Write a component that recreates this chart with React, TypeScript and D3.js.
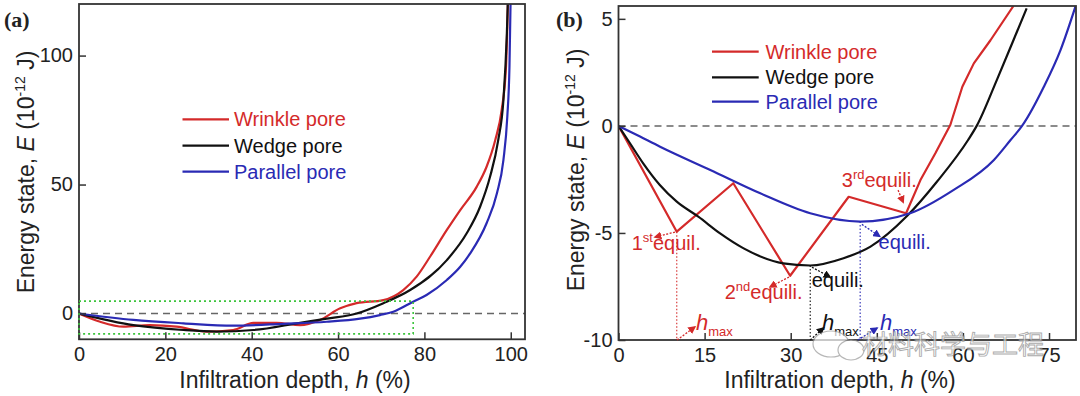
import React, { useEffect, useRef } from "react";
import * as d3 from "d3";

// ---- data: [h (%), E (1e-12 J)] ----
// panel (a), whole infiltration range
const wrinkleA: [number, number][] = [
  [0, 0], [4.9, -3.2], [10.3, -5.1], [16.4, -4.5], [22.6, -5.1], [29.6, -7.0], [35.7, -6.4],
  [40.4, -3.6], [45.8, -3.6], [51.2, -4.5], [55.8, -2.5], [60.5, 2.0], [64.3, 4.0], [70.5, 5.2],
  [75.1, 9.1], [78.2, 14.3], [81.3, 22.0], [85.2, 32.4], [88.3, 40.1], [92.1, 49.1], [94.4, 56.9],
  [96.4, 67.2], [97.9, 78.9], [98.9, 95.7], [99.4, 125],
];
const wedgeA: [number, number][] = [
  [0, 0], [12.6, -4.5], [24.2, -6.4], [31.9, -7.0], [40.4, -6.4], [51.2, -3.6], [57.4, -2.0],
  [64.3, 0], [70.5, 4.0], [76.7, 9.1], [85.2, 20.7], [89.8, 31.1], [92.9, 41.4], [95.2, 53.0],
  [97.1, 67.2], [98.3, 82.7], [99.1, 108.6], [99.4, 125],
];
const parallelA: [number, number][] = [
  [0, 0], [12.6, -2.5], [24.2, -3.8], [35.7, -4.7], [47.3, -4.0], [57.4, -3.2], [65.1, -2.0],
  [69.7, -0.6], [72.8, 0.7], [77.4, 4.6], [80.5, 7.2], [85.2, 13.0], [88.3, 18.1], [90.6, 23.3],
  [94.4, 35.0], [96.8, 46.6], [98.3, 59.5], [99.2, 76.3], [99.7, 95.7], [100, 125],
];

// panel (b), zoom of the dotted box
const wrinkleB: [number, number][] = [
  [0, 0], [10.15, -4.94], [20.0, -2.68], [29.9, -7.0], [40.1, -3.31], [50.1, -4.08],
  [52.6, -2.53], [55.2, -1.28], [57.8, 0.04], [59.9, 1.83], [61.9, 2.92], [64.8, 4.0], [68.8, 5.6],
];
const wedgeB: [number, number][] = [
  [0, 0], [2.0, -0.81], [4.3, -1.75], [7.2, -2.76], [10.15, -3.54], [13.9, -4.24], [17.7, -5.02],
  [21.8, -5.72], [28.7, -6.42], [33.4, -6.52], [39.2, -6.18], [43.9, -5.64], [50.3, -4.2],
  [55.5, -2.6], [60.9, -0.66], [62.4, 0], [65.9, 2.14], [68.8, 4.0], [71.1, 5.49],
];
const parallelB: [number, number][] = [
  [0, 0], [3.75, -0.5], [7.24, -0.97], [16.0, -2.06], [24.7, -3.15], [33.4, -4.08], [42.1, -4.47],
  [50.8, -4.08], [58.4, -2.99], [65.4, -1.59], [68.3, -0.66], [70.3, 0], [74.1, 1.83],
  [77.0, 3.54], [79.6, 5.57],
];

const seriesNames = ["Wrinkle pore", "Wedge pore", "Parallel pore"];
const seriesColors = ["#d42a2a", "#111111", "#2a2ab4"];

const ticksAX = [0, 20, 40, 60, 80, 100];
const ticksAY = [0, 50, 100];
const ticksBX = [0, 15, 30, 45, 60, 75];
const ticksBY = [-10, -5, 0, 5];

// dotted box in (a): h range and E range
const boxH = [0, 77.4];
const boxE = [-7.9, 4.8];

// equilibrium points in (b): series index, h, E
const equilibria = [
  { s: 0, h: 10.15, e: -4.94 },
  { s: 1, h: 33.4, e: -6.52 },
  { s: 2, h: 42.1, e: -4.47 },
];

// labels in (b): anchor (h, E), pieces of text
type Piece = { t: string; sup?: boolean; sub?: boolean; it?: boolean };
const notes: { s: number; h: number; e: number; parts: Piece[] }[] = [
  { s: 0, h: 2.3, e: -5.8, parts: [{ t: "1" }, { t: "st", sup: true }, { t: "equil." }] },
  { s: 0, h: 18.5, e: -8.1, parts: [{ t: "2" }, { t: "nd", sup: true }, { t: "equili." }] },
  { s: 0, h: 38.9, e: -2.87, parts: [{ t: "3" }, { t: "rd", sup: true }, { t: "equili." }] },
  { s: 1, h: 33.65, e: -7.52, parts: [{ t: "equili." }] },
  { s: 2, h: 45.3, e: -5.76, parts: [{ t: "equili." }] },
  { s: 0, h: 13.5, e: -9.53, parts: [{ t: "h", it: true }, { t: "max", sub: true }] },
  { s: 1, h: 35.45, e: -9.53, parts: [{ t: "h", it: true }, { t: "max", sub: true }] },
  { s: 2, h: 45.55, e: -9.53, parts: [{ t: "h", it: true }, { t: "max", sub: true }] },
];

// arrows in (b): series, from [h,E], to [h,E]
const arrows: { s: number; from: [number, number]; to: [number, number] }[] = [
  { s: 0, from: [9.84, -4.96], to: [6.36, -5.19] },
  { s: 0, from: [29.7, -7.06], to: [26.4, -7.52] },
  { s: 0, from: [48.7, -3.0], to: [49.6, -3.57] },
  { s: 1, from: [33.7, -6.6], to: [36.85, -7.06] },
  { s: 2, from: [42.4, -4.6], to: [45.5, -5.16] },
  { s: 0, from: [10.2, -10], to: [13.3, -9.39] },
  { s: 1, from: [33.4, -10], to: [35.7, -9.44] },
  { s: 2, from: [41.7, -10], to: [45.05, -9.44] },
];

const FONT = "'Liberation Sans', Arial, Helvetica, sans-serif";

const addRich = (g: any, x: number, y: number, parts: Piece[], color: string, size = 20) => {
  const text = g.append("text").attr("x", x).attr("y", y).attr("fill", color)
    .attr("font-size", size).attr("font-family", FONT);
  let shift = 0;
  parts.forEach((p) => {
    const target = p.sup ? -8 : p.sub ? 6 : 0;
    const ts = text.append("tspan").attr("dy", target - shift).text(p.t);
    if (p.sup || p.sub) ts.attr("font-size", 13);
    if (p.it) ts.attr("font-style", "italic").attr("font-size", 22);
    shift = target;
  });
  return text;
};

const renderPanel = (svg: any, props: any) => {
  const { x, y, xTicks, yTicks, series, curves, clipId, legend, labelX, yLabelX, yLabelY, tag, tagX } = props;
  const [x0, x1] = x.range();
  const [yb, yt] = y.range();

  svg.append("clipPath").attr("id", clipId)
    .append("rect").attr("x", x0).attr("y", yt).attr("width", x1 - x0).attr("height", yb - yt);

  // zero line
  svg.append("line")
    .attr("x1", x0).attr("x2", x1).attr("y1", y(0)).attr("y2", y(0))
    .attr("stroke", "#666").attr("stroke-width", 1.5).attr("stroke-dasharray", "7,5");

  const plot = svg.append("g").attr("clip-path", `url(#${clipId})`);
  series.forEach((d: [number, number][], i: number) => {
    const line = d3.line<[number, number]>()
      .x((p) => x(p[0])).y((p) => y(p[1]))
      .curve(curves[i]);
    plot.append("path").datum(d)
      .attr("d", line)
      .attr("fill", "none")
      .attr("stroke", seriesColors[i])
      .attr("stroke-width", 2.2)
      .attr("stroke-linejoin", "round");
  });

  // axes with inward ticks
  svg.append("g")
    .attr("transform", `translate(0,${yb})`)
    .call(d3.axisBottom(x).tickValues(xTicks).tickSizeInner(-7).tickSizeOuter(0).tickPadding(8)
      .tickFormat((d: any) => String(d)))
    .attr("font-size", 20).attr("font-family", FONT).attr("color", "#333")
    .call((g: any) => g.select(".domain").remove())
    .call((g: any) => g.selectAll("line").attr("stroke-width", 1.5))
    .call((g: any) => g.selectAll("text").attr("fill", "#222"));

  svg.append("g")
    .attr("transform", `translate(${x0},0)`)
    .call(d3.axisLeft(y).tickValues(yTicks).tickSizeInner(-7).tickSizeOuter(0).tickPadding(6)
      .tickFormat((d: any) => String(d)))
    .attr("font-size", 20).attr("font-family", FONT).attr("color", "#333")
    .call((g: any) => g.select(".domain").remove())
    .call((g: any) => g.selectAll("line").attr("stroke-width", 1.5))
    .call((g: any) => g.selectAll("text").attr("fill", "#222"));

  // frame
  svg.append("rect")
    .attr("x", x0).attr("y", yt).attr("width", x1 - x0).attr("height", yb - yt)
    .attr("fill", "none").attr("stroke", "#333").attr("stroke-width", 1.8);

  // legend
  seriesNames.forEach((name, i) => {
    const ly = legend.y[i];
    svg.append("line")
      .attr("x1", legend.x0).attr("x2", legend.x1).attr("y1", ly).attr("y2", ly)
      .attr("stroke", seriesColors[i]).attr("stroke-width", 2.2);
    svg.append("text")
      .attr("x", legend.tx).attr("y", ly).attr("dy", "0.35em")
      .attr("font-size", 20).attr("font-family", FONT)
      .attr("fill", seriesColors[i])
      .text(name);
  });

  // axis titles
  const xt = svg.append("text")
    .attr("x", labelX).attr("y", 388).attr("text-anchor", "middle")
    .attr("font-size", 23).attr("font-family", FONT).attr("fill", "#222");
  xt.append("tspan").text("Infiltration depth, ");
  xt.append("tspan").attr("font-style", "italic").text("h");
  xt.append("tspan").text(" (%)");

  const yt2 = svg.append("text")
    .attr("transform", `translate(${yLabelX},${yLabelY}) rotate(-90)`)
    .attr("text-anchor", "middle")
    .attr("font-size", 23).attr("font-family", FONT).attr("fill", "#222");
  yt2.append("tspan").text("Energy state, ");
  yt2.append("tspan").attr("font-style", "italic").text("E");
  yt2.append("tspan").text(" (10");
  yt2.append("tspan").attr("dy", -9).attr("font-size", 14).text("-12");
  yt2.append("tspan").attr("dy", 9).text("  J)");

  svg.append("text")
    .attr("x", tagX).attr("y", 27)
    .attr("font-size", 22).attr("font-weight", "bold")
    .attr("font-family", "'Liberation Serif', 'Times New Roman', serif")
    .attr("fill", "#222")
    .text(tag);

  return plot;
};

const App = () => {
  const svgRef = useRef<SVGSVGElement>(null);

  useEffect(() => {
    const svg = d3.select(svgRef.current);
    svg.selectAll("*").remove();

    // ---------- panel (a) ----------
    const xA = d3.scaleLinear().domain([0, 103.3]).range([79, 525]);
    const yA = d3.scaleLinear().domain([-10, 120]).range([339.3, 4]);
    renderPanel(svg, {
      x: xA, y: yA, xTicks: ticksAX, yTicks: ticksAY,
      series: [wrinkleA, wedgeA, parallelA],
      curves: [d3.curveMonotoneX, d3.curveMonotoneX, d3.curveMonotoneX],
      clipId: "clipA",
      legend: { x0: 182.5, x1: 229, tx: 234, y: [119.3, 145.7, 171.7] },
      labelX: 295, yLabelX: 34, yLabelY: 172, tag: "(a)", tagX: 4,
    });
    // dotted zoom box
    svg.append("rect")
      .attr("x", xA(boxH[0])).attr("y", yA(boxE[1]))
      .attr("width", xA(boxH[1]) - xA(boxH[0]))
      .attr("height", yA(boxE[0]) - yA(boxE[1]))
      .attr("fill", "none").attr("stroke", "#3cc43c")
      .attr("stroke-width", 1.6).attr("stroke-dasharray", "2,3");

    // ---------- panel (b) ----------
    const xB = d3.scaleLinear().domain([0, 79.7]).range([618.5, 1076]);
    const yB = d3.scaleLinear().domain([-10, 5.6]).range([340, 6]);
    const plotB = renderPanel(svg, {
      x: xB, y: yB, xTicks: ticksBX, yTicks: ticksBY,
      series: [wrinkleB, wedgeB, parallelB],
      curves: [d3.curveLinear, d3.curveMonotoneX, d3.curveMonotoneX],
      clipId: "clipB",
      legend: { x0: 712, x1: 758.7, tx: 765.5, y: [51.7, 77.3, 101.7] },
      labelX: 840, yLabelX: 584, yLabelY: 170, tag: "(b)", tagX: 556,
    });

    // drop lines from the equilibrium points
    equilibria.forEach((q) => {
      plotB.append("line")
        .attr("x1", xB(q.h)).attr("x2", xB(q.h))
        .attr("y1", yB(q.e)).attr("y2", yB(-10))
        .attr("stroke", seriesColors[q.s]).attr("stroke-width", 1.1)
        .attr("stroke-dasharray", "1.5,2");
    });

    // arrow heads
    const defs = svg.append("defs");
    seriesColors.forEach((c, i) => {
      defs.append("marker")
        .attr("id", `arr${i}`)
        .attr("viewBox", "0 0 10 10").attr("refX", 8).attr("refY", 5)
        .attr("markerWidth", 8).attr("markerHeight", 8)
        .attr("markerUnits", "userSpaceOnUse")
        .attr("orient", "auto")
        .append("path").attr("d", "M0,0 L10,5 L0,10 z").attr("fill", c);
    });
    arrows.forEach((a) => {
      svg.append("line")
        .attr("x1", xB(a.from[0])).attr("y1", yB(a.from[1]))
        .attr("x2", xB(a.to[0])).attr("y2", yB(a.to[1]))
        .attr("stroke", seriesColors[a.s]).attr("stroke-width", 1.3)
        .attr("stroke-dasharray", "2,1.5")
        .attr("marker-end", `url(#arr${a.s})`);
    });

    notes.forEach((n) => {
      addRich(svg, xB(n.h), yB(n.e), n.parts, seriesColors[n.s]);
    });

    // watermark
    const wm = svg.append("g").attr("opacity", 0.7);
    wm.append("ellipse").attr("cx", 831).attr("cy", 344).attr("rx", 18).attr("ry", 13)
      .attr("fill", "white").attr("stroke", "#999").attr("stroke-width", 1.2);
    wm.append("ellipse").attr("cx", 851).attr("cy", 350).attr("rx", 13).attr("ry", 10)
      .attr("fill", "white").attr("stroke", "#999").attr("stroke-width", 1.2);
    wm.append("text")
      .attr("x", 862).attr("y", 354)
      .attr("font-size", 26).attr("font-family", "'Noto Sans CJK SC', sans-serif")
      .attr("fill", "white").attr("stroke", "#888").attr("stroke-width", 0.9)
      .text("材料科学与工程");
  }, []);

  return (
    <svg
      ref={svgRef}
      width={1080}
      height={396}
      style={{ position: "absolute", left: 0, top: 0, background: "white" }}
    />
  );
};

export default App;
